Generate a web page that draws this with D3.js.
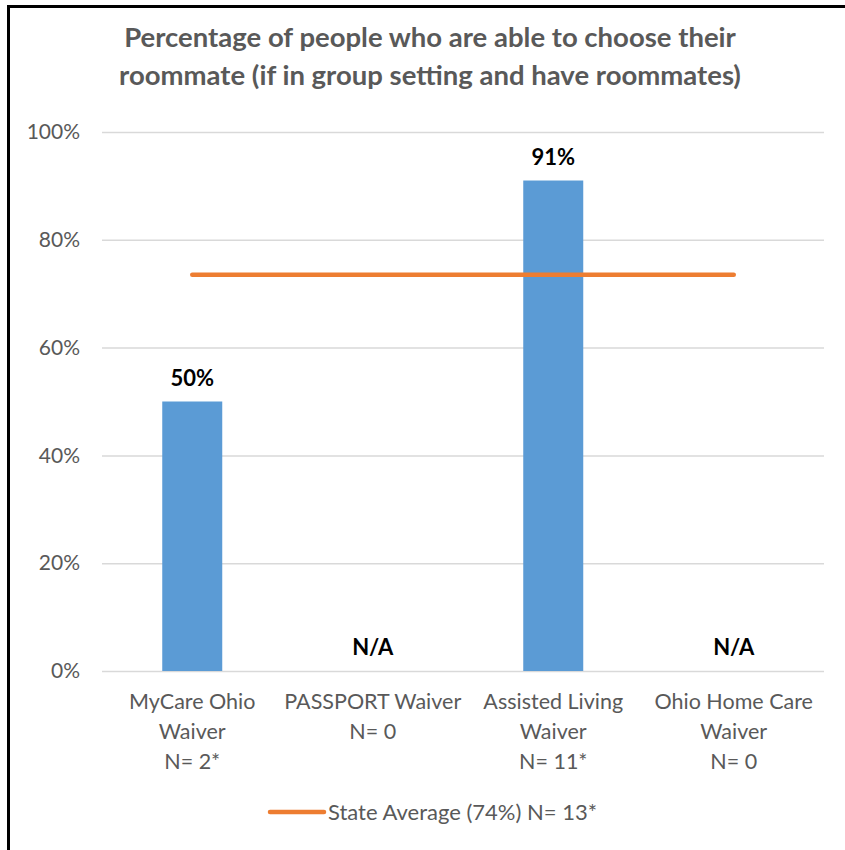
<!DOCTYPE html>
<html>
<head>
<meta charset="utf-8">
<script src="https://cdn.jsdelivr.net/npm/d3@7"></script>
<style>
  html, body { margin: 0; padding: 0; background: #fff; }
  svg { display: block; }
  text { font-family: Lato, "Open Sans", sans-serif; }
</style>
</head>
<body>
<svg id="chart" width="845" height="850"></svg>
<script>
// Chart data
const titleLines = ["Percentage of people who are able to choose their",
                    "roommate (if in group setting and have roommates)"];
const categories = [
  ["MyCare Ohio", "Waiver", "N= 2*"],
  ["PASSPORT Waiver", "N= 0"],
  ["Assisted Living", "Waiver", "N= 11*"],
  ["Ohio Home Care", "Waiver", "N= 0"]
];
const barValues = [50, null, 91, null];       // null = no respondents (N/A)
const stateAverage = 73.5;
const stateAverageN = "13*";
const yTicks = [0, 20, 40, 60, 80, 100];

const svg = d3.select("#chart");
const margin = { left: 102, right: 21, top: 132, bottom: 179 };
const W = 845, H = 850;

const x = d3.scaleBand()
  .domain(d3.range(categories.length))
  .range([margin.left, W - margin.right])
  .paddingInner(0).paddingOuter(0);

const y = d3.scaleLinear().domain([0, 100]).range([H - margin.bottom, margin.top]);

const gray = "#595959";

// frame edges
svg.append("line").attr("x1", 8.5).attr("x2", 8.5).attr("y1", 5).attr("y2", 850)
  .attr("stroke", "#000").attr("stroke-width", 3);
svg.append("line").attr("x1", 7).attr("x2", 845).attr("y1", 6.5).attr("y2", 6.5)
  .attr("stroke", "#000").attr("stroke-width", 3);

// title
svg.append("g").selectAll("text").data(titleLines).join("text")
  .attr("x", 430).attr("y", (d, i) => 47 + i * 38)
  .attr("text-anchor", "middle")
  .attr("font-size", 27.5).attr("font-weight", "bold").attr("fill", gray)
  .text(d => d);

// gridlines + y labels
const yAxis = d3.axisLeft(y).tickValues(yTicks).tickFormat(d => d + "%")
  .tickSize(-(W - margin.left - margin.right)).tickPadding(22);
const gy = svg.append("g").attr("transform", `translate(${margin.left},0)`).call(yAxis);
gy.select(".domain").remove();
gy.selectAll(".tick line").attr("stroke", "#d9d9d9").attr("stroke-width", 1.5);
gy.selectAll(".tick text").attr("fill", gray).attr("font-size", 21)
  .attr("font-family", "Lato, 'Open Sans', sans-serif");

// bars
const barW = 60;
const barData = barValues.map((v, i) => ({ v, i }));
svg.append("g").selectAll("rect").data(barData.filter(d => d.v !== null)).join("rect")
  .attr("x", d => x(d.i) + x.bandwidth() / 2 - barW / 2)
  .attr("width", barW)
  .attr("y", d => y(d.v))
  .attr("height", d => y(0) - y(d.v))
  .attr("fill", "#5b9bd5");

// value labels
svg.append("g").selectAll("text").data(barData).join("text")
  .attr("x", d => x(d.i) + x.bandwidth() / 2)
  .attr("y", d => (d.v === null ? y(0) : y(d.v)) - 16)
  .attr("text-anchor", "middle")
  .attr("font-size", 22).attr("font-weight", "bold").attr("fill", "#000")
  .text(d => d.v === null ? "N/A" : d.v + "%");

// state average line across category centres
const line = d3.line().x(d => x(d) + x.bandwidth() / 2).y(() => y(stateAverage));
svg.append("path").datum(d3.range(categories.length))
  .attr("d", line).attr("fill", "none")
  .attr("stroke", "#ed7d31").attr("stroke-width", 4.5).attr("stroke-linecap", "round");

// category labels
const gx = svg.append("g");
categories.forEach((lines, i) => {
  gx.append("g").selectAll("text").data(lines).join("text")
    .attr("x", x(i) + x.bandwidth() / 2)
    .attr("y", (d, k) => y(0) + 38 + k * 30)
    .attr("text-anchor", "middle")
    .attr("font-size", 21.5).attr("fill", gray)
    .text(d => d);
});

// legend
const lg = svg.append("g").attr("transform", "translate(0,812)");
lg.append("line").attr("x1", 270).attr("x2", 324).attr("y1", 0).attr("y2", 0)
  .attr("stroke", "#ed7d31").attr("stroke-width", 4.5).attr("stroke-linecap", "round");
lg.append("text").attr("x", 328).attr("y", 8)
  .attr("font-size", 22).attr("fill", gray)
  .text(`State Average (${Math.round(stateAverage)}%) N= ${stateAverageN}`);
</script>
</body>
</html>
